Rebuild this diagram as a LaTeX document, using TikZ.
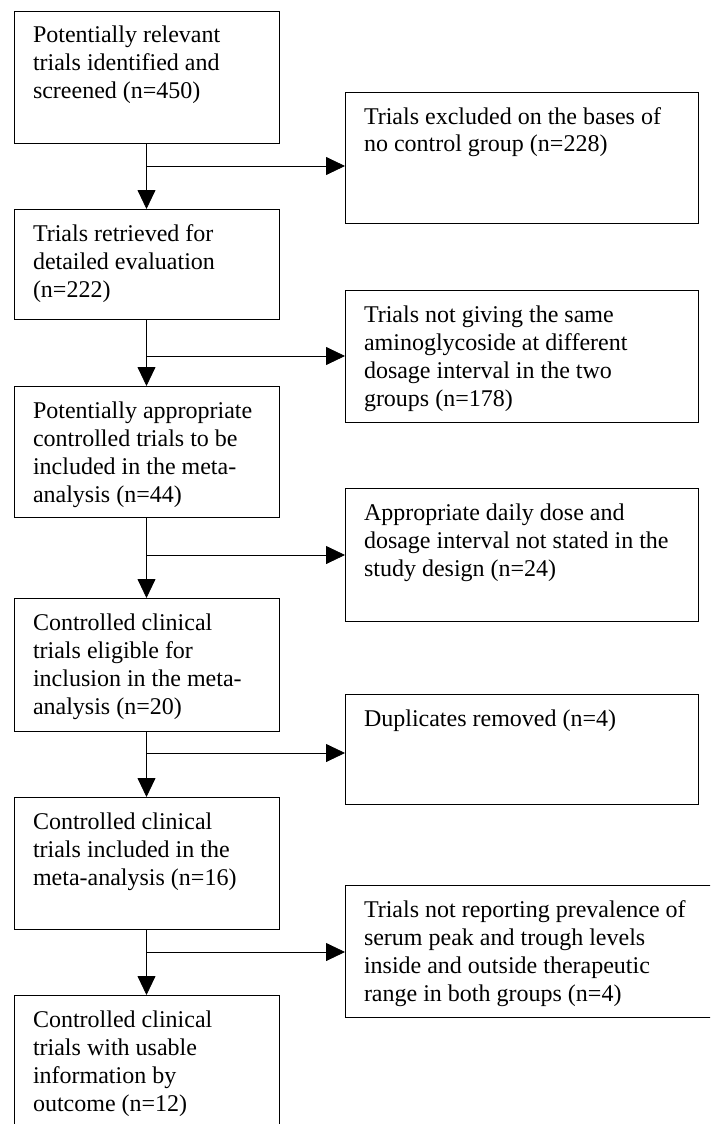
\documentclass[tikz,border=0pt]{standalone}
\usepackage{fontspec}
\setmainfont{Liberation Serif}
\usetikzlibrary{arrows.meta}
\tikzset{
  box/.style={draw=black, line width=0.8pt, rectangle, inner sep=0pt, outer sep=0pt},
  txt/.style={anchor=base west, inner sep=0pt, outer sep=0pt},
  arr/.style={line width=0.8pt, -{Triangle[length=19pt,width=18pt]}}
}
\newcommand{\bt}[1]{\parbox[t]{340pt}{\fontsize{24}{28}\selectfont #1}}
\begin{document}
\begin{tikzpicture}[x=1pt,y=-1pt]
\clip (0,0) rectangle (710,1124);
\fill[white] (0,0) rectangle (710,1124);
% left column
\node[box, minimum width=265pt, minimum height=132pt] (L1) at (146.5,77) {};
\node[box, minimum width=265pt, minimum height=110pt] (L2) at (146.5,264) {};
\node[box, minimum width=265pt, minimum height=131pt] (L3) at (146.5,451.5) {};
\node[box, minimum width=265pt, minimum height=133pt] (L4) at (146.5,664.5) {};
\node[box, minimum width=265pt, minimum height=132pt] (L5) at (146.5,863) {};
\node[box, minimum width=265pt, minimum height=145pt] (L6) at (146.5,1067.5) {};
% right column
\node[box, minimum width=353pt, minimum height=131pt] (R1) at (521.5,157.5) {};
\node[box, minimum width=353pt, minimum height=132pt] (R2) at (521.5,356) {};
\node[box, minimum width=353pt, minimum height=133pt] (R3) at (521.5,554.5) {};
\node[box, minimum width=353pt, minimum height=110pt] (R4) at (521.5,749) {};
\node[box, minimum width=370pt, minimum height=132pt] (R5) at (530,951) {};
% texts
\node[txt] (tL1) at ([xshift=19pt,yshift=-32pt]L1.north west) {\bt{Potentially relevant\\trials identified and\\screened (n=450)}};
\node[txt] (tL2) at ([xshift=19pt,yshift=-32pt]L2.north west) {\bt{Trials retrieved for\\detailed evaluation\\(n=222)}};
\node[txt] (tL3) at ([xshift=19pt,yshift=-32pt]L3.north west) {\bt{Potentially appropriate\\controlled trials to be\\included in the meta-\\analysis (n=44)}};
\node[txt] (tL4) at ([xshift=19pt,yshift=-32pt]L4.north west) {\bt{Controlled clinical\\trials eligible for\\inclusion in the meta-\\analysis (n=20)}};
\node[txt] (tL5) at ([xshift=19pt,yshift=-32pt]L5.north west) {\bt{Controlled clinical\\trials included in the\\meta-analysis (n=16)}};
\node[txt] (tL6) at ([xshift=19pt,yshift=-32pt]L6.north west) {\bt{Controlled clinical\\trials with usable\\information by\\outcome (n=12)}};
\node[txt] (tR1) at ([xshift=19pt,yshift=-32pt]R1.north west) {\bt{Trials excluded on the bases of\\no control group (n=228)}};
\node[txt] (tR2) at ([xshift=19pt,yshift=-32pt]R2.north west) {\bt{Trials not giving the same\\aminoglycoside at different\\dosage interval in the two\\groups (n=178)}};
\node[txt] (tR3) at ([xshift=19pt,yshift=-32pt]R3.north west) {\bt{Appropriate daily dose and\\dosage interval not stated in the\\study design (n=24)}};
\node[txt] (tR4) at ([xshift=19pt,yshift=-32pt]R4.north west) {\bt{Duplicates removed (n=4)}};
\node[txt] (tR5) at ([xshift=19pt,yshift=-32pt]R5.north west) {\bt{Trials not reporting prevalence of\\serum peak and trough levels\\inside and outside therapeutic\\range in both groups (n=4)}};
% junctions
\coordinate (j1) at (146.5,166);
\coordinate (j2) at (146.5,356);
\coordinate (j3) at (146.5,555);
\coordinate (j4) at (146.5,753);
\coordinate (j5) at (146.5,952);
% vertical connectors
\draw[arr] (L1.south) -- (L2.north);
\draw[arr] (L2.south) -- (L3.north);
\draw[arr] (L3.south) -- (L4.north);
\draw[arr] (L4.south) -- (L5.north);
\draw[arr] (L5.south) -- (L6.north);
% horizontal connectors
\draw[arr] (j1) -- (j1 -| R1.west);
\draw[arr] (j2) -- (j2 -| R2.west);
\draw[arr] (j3) -- (j3 -| R3.west);
\draw[arr] (j4) -- (j4 -| R4.west);
\draw[arr] (j5) -- (j5 -| R5.west);
\end{tikzpicture}
\end{document}
